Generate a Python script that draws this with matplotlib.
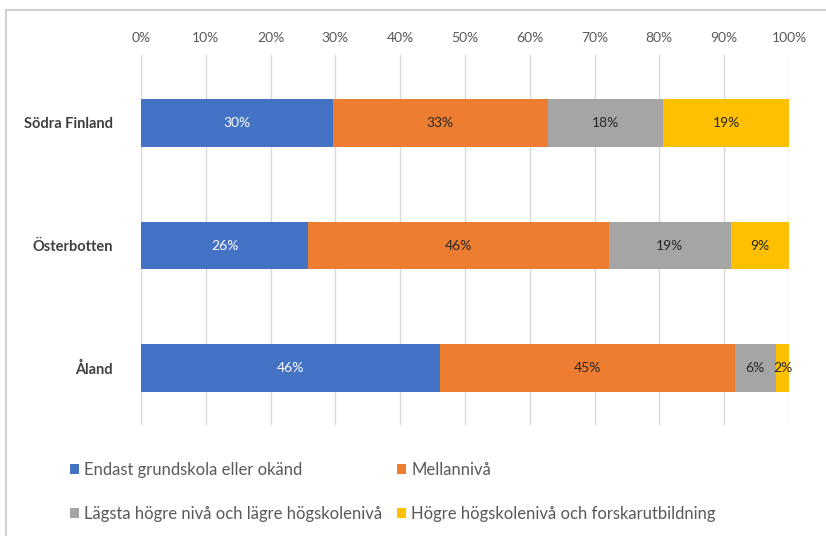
import numpy as np
import matplotlib
matplotlib.use('Agg')
import matplotlib.pyplot as plt
from matplotlib.lines import Line2D

plt.rcParams['font.family'] = ['Lato', 'DejaVu Sans']

regions = ['Södra Finland', 'Österbotten', 'Åland']
levels = ['Endast grundskola eller okänd',
          'Mellannivå',
          'Lägsta högre nivå och lägre högskolenivå',
          'Högre högskolenivå och forskarutbildning']
# share per region, in percent
grund   = [29.6, 25.8, 46.2]
mellan  = [33.2, 46.4, 45.4]
lagsta  = [17.8, 18.8, 6.4]
hogre   = [19.4, 9.0, 2.0]
labels  = [['30%', '26%', '46%'],
           ['33%', '46%', '45%'],
           ['18%', '19%', '6%'],
           ['19%', '9%', '2%']]

colors = ['#4472C4', '#ED7D31', '#A5A5A5', '#FFC000']
txtcol = ['white', '#262626', '#262626', '#262626']

fig = plt.figure(figsize=[8.26, 5.36], dpi=100)
ax = fig.add_axes([141/826, 1-425/536, 648/826, 370/536])

ypos = np.arange(len(regions))
left = np.zeros(len(regions))
for i, vals in enumerate([grund, mellan, lagsta, hogre]):
    vals = np.array(vals)
    ax.barh(ypos, vals, height=0.39, left=left, color=colors[i], label=levels[i], zorder=3)
    for j in range(len(regions)):
        ax.text(left[j]+vals[j]/2, ypos[j], labels[i][j], ha='center', va='center',
                fontsize=10, color=txtcol[i], zorder=4)
    left += vals

ax.set_xlim(0, 100)
ax.set_ylim(2.465, -0.555)
ax.set_xticks(np.arange(0, 101, 10))
ax.set_xticklabels(['{:d}%'.format(x) for x in range(0, 101, 10)])
ax.xaxis.tick_top()
ax.tick_params(axis='x', length=0, pad=8, labelsize=10, labelcolor='#595959')
ax.set_yticks(ypos)
ax.set_yticklabels(regions, fontsize=10.5, color='#404040', fontweight='bold')
ax.tick_params(axis='y', length=0, pad=20)
ax.grid(axis='x', color='#D9D9D9', linewidth=1, zorder=0)
for s in ax.spines.values():
    s.set_visible(False)

# chart frame (top and left edge visible)
fig.add_artist(Line2D([6/826, 1], [1-10/536, 1-10/536], color='#D0D0D0', lw=1.5))
fig.add_artist(Line2D([6/826, 6/826], [0, 1-10/536], color='#D0D0D0', lw=1.5))

h, l = ax.get_legend_handles_labels()
order = [0, 2, 1, 3]
leg = fig.legend([h[k] for k in order], [l[k] for k in order], ncol=2,
                 loc='upper left', bbox_to_anchor=(55/826, 1-447/536),
                 frameon=False, fontsize=12, handlelength=0.55, handleheight=0.55,
                 handletextpad=0.3, columnspacing=0.9, labelspacing=1.7,
                 labelcolor='#595959')

plt.savefig('out.png', dpi=100)
